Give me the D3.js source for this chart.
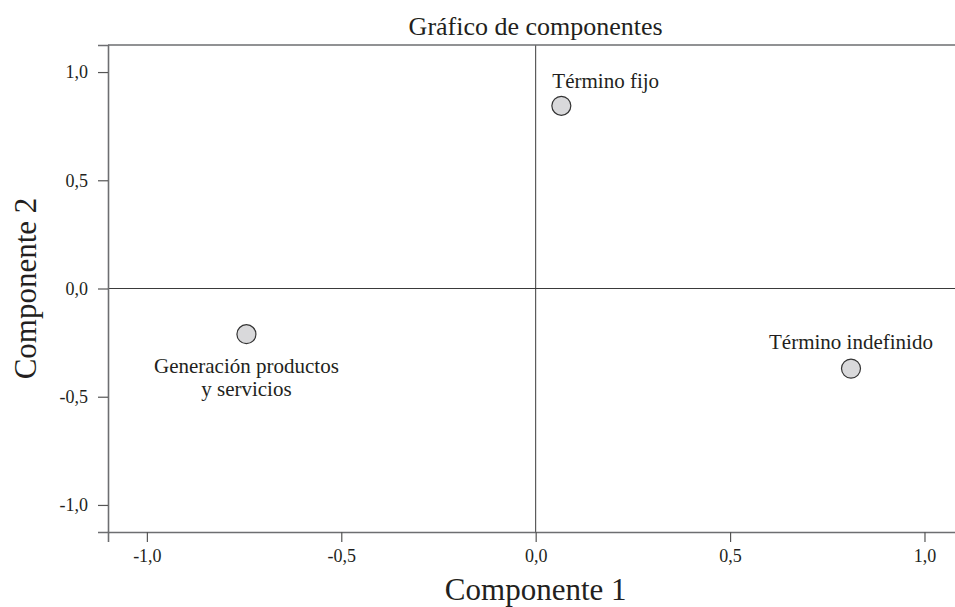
<!DOCTYPE html>
<html>
<head>
<meta charset="utf-8">
<script src="https://cdn.jsdelivr.net/npm/d3@7"></script>
<style>
  html, body { margin: 0; padding: 0; background: #fff; }
  svg { display: block; }
  text { font-family: "Liberation Serif", "DejaVu Serif", serif; fill: #231f20; }
</style>
</head>
<body>
<svg id="chart" width="955" height="607"></svg>
<script>
// Component loadings (component 1, component 2)
const labels = ["Término fijo", "Generación productos\ny servicios", "Término indefinido"];
const comp1 = [0.066, -0.744, 0.811];
const comp2 = [0.844, -0.211, -0.370];
const tickValues = [-1.0, -0.5, 0.0, 0.5, 1.0];

const svg = d3.select("#chart");
const plotLeft = 108, plotTop = 45, plotBottom = 532;

const x = d3.scaleLinear().domain([-1.1, 1.1]).range([plotLeft, plotLeft + 2.2 * 388.8]);
const y = d3.scaleLinear().domain([-1.125, 1.125]).range([plotBottom, plotTop]);

const fmt = d => d3.format(".1f")(d).replace(".", ",").replace("−", "-");

// zero reference lines
svg.append("line")
  .attr("x1", x(0)).attr("x2", x(0)).attr("y1", y(1.125)).attr("y2", y(-1.125))
  .attr("stroke", "#3a3a3a").attr("stroke-width", 1);
svg.append("line")
  .attr("x1", x(-1.1)).attr("x2", x(1.1)).attr("y1", y(0)).attr("y2", y(0))
  .attr("stroke", "#3a3a3a").attr("stroke-width", 1);

// top edge of the frame
svg.append("line")
  .attr("x1", x(-1.1)).attr("x2", x(1.1)).attr("y1", y(1.125)).attr("y2", y(1.125))
  .attr("stroke", "#6d6e71").attr("stroke-width", 1.6);

// axes
const xAxis = d3.axisBottom(x).tickValues(tickValues).tickFormat(fmt).tickSizeOuter(0).tickSize(10).tickPadding(7);
const yAxis = d3.axisLeft(y).tickValues(tickValues).tickFormat(fmt).tickSizeOuter(0).tickSize(10).tickPadding(10);

const gx = svg.append("g").attr("transform", `translate(0,${plotBottom})`).call(xAxis);
const gy = svg.append("g").attr("transform", `translate(${plotLeft},0)`).call(yAxis);

[gx, gy].forEach(g => {
  g.select(".domain").attr("stroke", "#6d6e71").attr("stroke-width", 1.6);
  g.selectAll(".tick line").attr("stroke", "#555").attr("stroke-width", 1.2);
  g.selectAll(".tick text")
    .attr("fill", "#231f20")
    .style("font-family", "'Liberation Serif', serif")
    .style("font-size", "18px");
});

// points
const pts = comp1.map((c, i) => ({ label: labels[i], c1: c, c2: comp2[i] }));

svg.append("g").selectAll("circle")
  .data(pts).join("circle")
  .attr("cx", d => x(d.c1)).attr("cy", d => y(d.c2))
  .attr("r", 9.5)
  .attr("fill", "#d9d9db").attr("stroke", "#333").attr("stroke-width", 1.2);

// point labels
const labelStyle = [
  { anchor: "start", dx: -9, dy: -18 },
  { anchor: "middle", dx: 0, dy: 39 },
  { anchor: "middle", dx: 0, dy: -20 }
];
pts.forEach((d, i) => {
  const s = labelStyle[i];
  const t = svg.append("text")
    .attr("x", x(d.c1) + s.dx).attr("y", y(d.c2) + s.dy)
    .attr("text-anchor", s.anchor)
    .style("font-size", "21px");
  d.label.split("\n").forEach((line, j) => {
    t.append("tspan").attr("x", x(d.c1) + s.dx).attr("dy", j === 0 ? 0 : 23).text(line);
  });
});

// titles
svg.append("text").attr("x", x(0)).attr("y", 35).attr("text-anchor", "middle")
  .style("font-size", "26px").text("Gráfico de componentes");
svg.append("text").attr("x", x(0)).attr("y", 600).attr("text-anchor", "middle")
  .style("font-size", "31px").text("Componente 1");
svg.append("text")
  .attr("transform", `translate(36,${y(0)}) rotate(-90)`)
  .attr("text-anchor", "middle")
  .style("font-size", "31px").text("Componente 2");
</script>
</body>
</html>
